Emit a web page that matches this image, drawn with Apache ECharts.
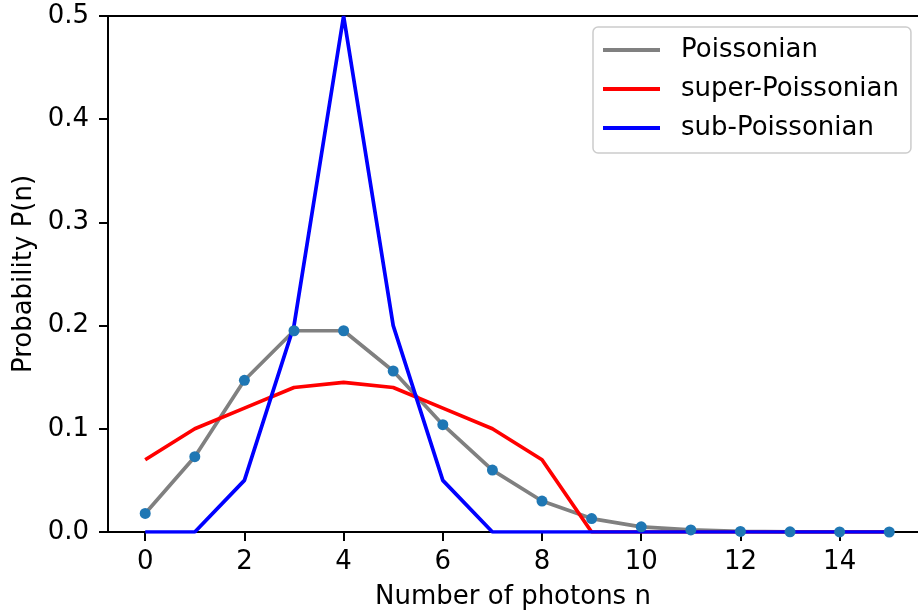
<!DOCTYPE html>
<html>
<head>
<meta charset="utf-8">
<script src="https://cdn.jsdelivr.net/npm/echarts@6/dist/echarts.min.js"></script>
<style>
  html, body { margin: 0; padding: 0; background: #fff; }
  #chart { width: 918px; height: 615px; }
</style>
</head>
<body>
<div id="chart"></div>
<script>
// photon number n
var photons = [0, 1, 2, 3, 4, 5, 6, 7, 8, 9, 10, 11, 12, 13, 14, 15];
// values
var poissonian = [0.018, 0.073, 0.147, 0.195, 0.195, 0.156, 0.104, 0.060, 0.030, 0.013, 0.005, 0.002, 0.0006, 0.0002, 0.00005, 0.00001];
var superPoissonian = [0.07, 0.10, 0.12, 0.14, 0.145, 0.14, 0.12, 0.10, 0.07, 0, 0, 0, 0, 0, 0, 0];
var subPoissonian = [0, 0, 0.05, 0.2, 0.5, 0.2, 0.05, 0, 0, 0, 0, 0, 0, 0, 0, 0];
var xTicks = [0, 2, 4, 6, 8, 10, 12, 14];

function pairs(ys) {
    var out = [];
    for (var i = 0; i < photons.length; i++) {
        out.push([photons[i], ys[i]]);
    }
    return out;
}

var chart = echarts.init(document.getElementById('chart'));
var font = 'DejaVu Sans';

var option = {
    animation: false,
    backgroundColor: '#fff',
    textStyle: { fontFamily: font },
    grid: {
        left: 108,
        top: 16,
        bottom: 83,
        right: 0
    },
    legend: {
        orient: 'vertical',
        left: 593,
        top: 27,
        padding: [10, 12, 12, 10],
        itemGap: 13,
        itemWidth: 57,
        itemHeight: 4,
        icon: 'rect',
        backgroundColor: 'rgba(255,255,255,0.8)',
        borderColor: '#cccccc',
        borderWidth: 1.5,
        borderRadius: 5,
        textStyle: { fontFamily: font, fontSize: 26, color: '#000', padding: [0, 0, 0, 16] },
        data: ['Poissonian', 'super-Poissonian', 'sub-Poissonian']
    },
    xAxis: [{
        type: 'value',
        min: -0.75,
        max: 15.58,
        name: 'Number of photons n',
        nameLocation: 'middle',
        nameGap: 52,
        nameTextStyle: { fontFamily: font, fontSize: 26, color: '#000' },
        splitLine: { show: false },
        axisLine: { onZero: false, lineStyle: { color: '#000', width: 2 } },
        axisTick: { length: 9, lineStyle: { color: '#000', width: 2 }, customValues: xTicks },
        axisLabel: { fontFamily: font, fontSize: 26, color: '#000', margin: 17, customValues: xTicks }
    }, {
        // top spine only
        type: 'value',
        position: 'top',
        min: -0.75,
        max: 15.58,
        splitLine: { show: false },
        axisLine: { show: true, onZero: false, lineStyle: { color: '#000', width: 2 } },
        axisTick: { show: false },
        axisLabel: { show: false }
    }],
    yAxis: {
        type: 'value',
        min: 0,
        max: 0.5,
        interval: 0.1,
        name: 'Probability P(n)',
        nameLocation: 'middle',
        nameGap: 71,
        nameTextStyle: { fontFamily: font, fontSize: 26, color: '#000' },
        splitLine: { show: false },
        axisLine: { show: true, onZero: false, lineStyle: { color: '#000', width: 2 } },
        axisTick: { show: true, length: 9, lineStyle: { color: '#000', width: 2 } },
        axisLabel: {
            fontFamily: font, fontSize: 26, color: '#000', margin: 19,
            formatter: function (v) { return v.toFixed(1); }
        }
    },
    series: [
        {
            name: 'Poissonian',
            type: 'line',
            data: pairs(poissonian),
            showSymbol: false,
            color: '#808080',
            lineStyle: { color: '#808080', width: 3.7 },
            z: 2
        },
        {
            name: 'super-Poissonian',
            type: 'line',
            data: pairs(superPoissonian),
            showSymbol: false,
            color: '#ff0000',
            lineStyle: { color: '#ff0000', width: 3.7 },
            z: 3
        },
        {
            name: 'sub-Poissonian',
            type: 'line',
            data: pairs(subPoissonian),
            showSymbol: false,
            color: '#0000ff',
            lineStyle: { color: '#0000ff', width: 3.7 },
            z: 4
        },
        {
            name: 'points',
            type: 'scatter',
            data: pairs(poissonian),
            symbolSize: 11,
            itemStyle: { color: '#1f77b4', opacity: 1 },
            z: 5
        }
    ]
};

chart.setOption(option);
</script>
</body>
</html>
